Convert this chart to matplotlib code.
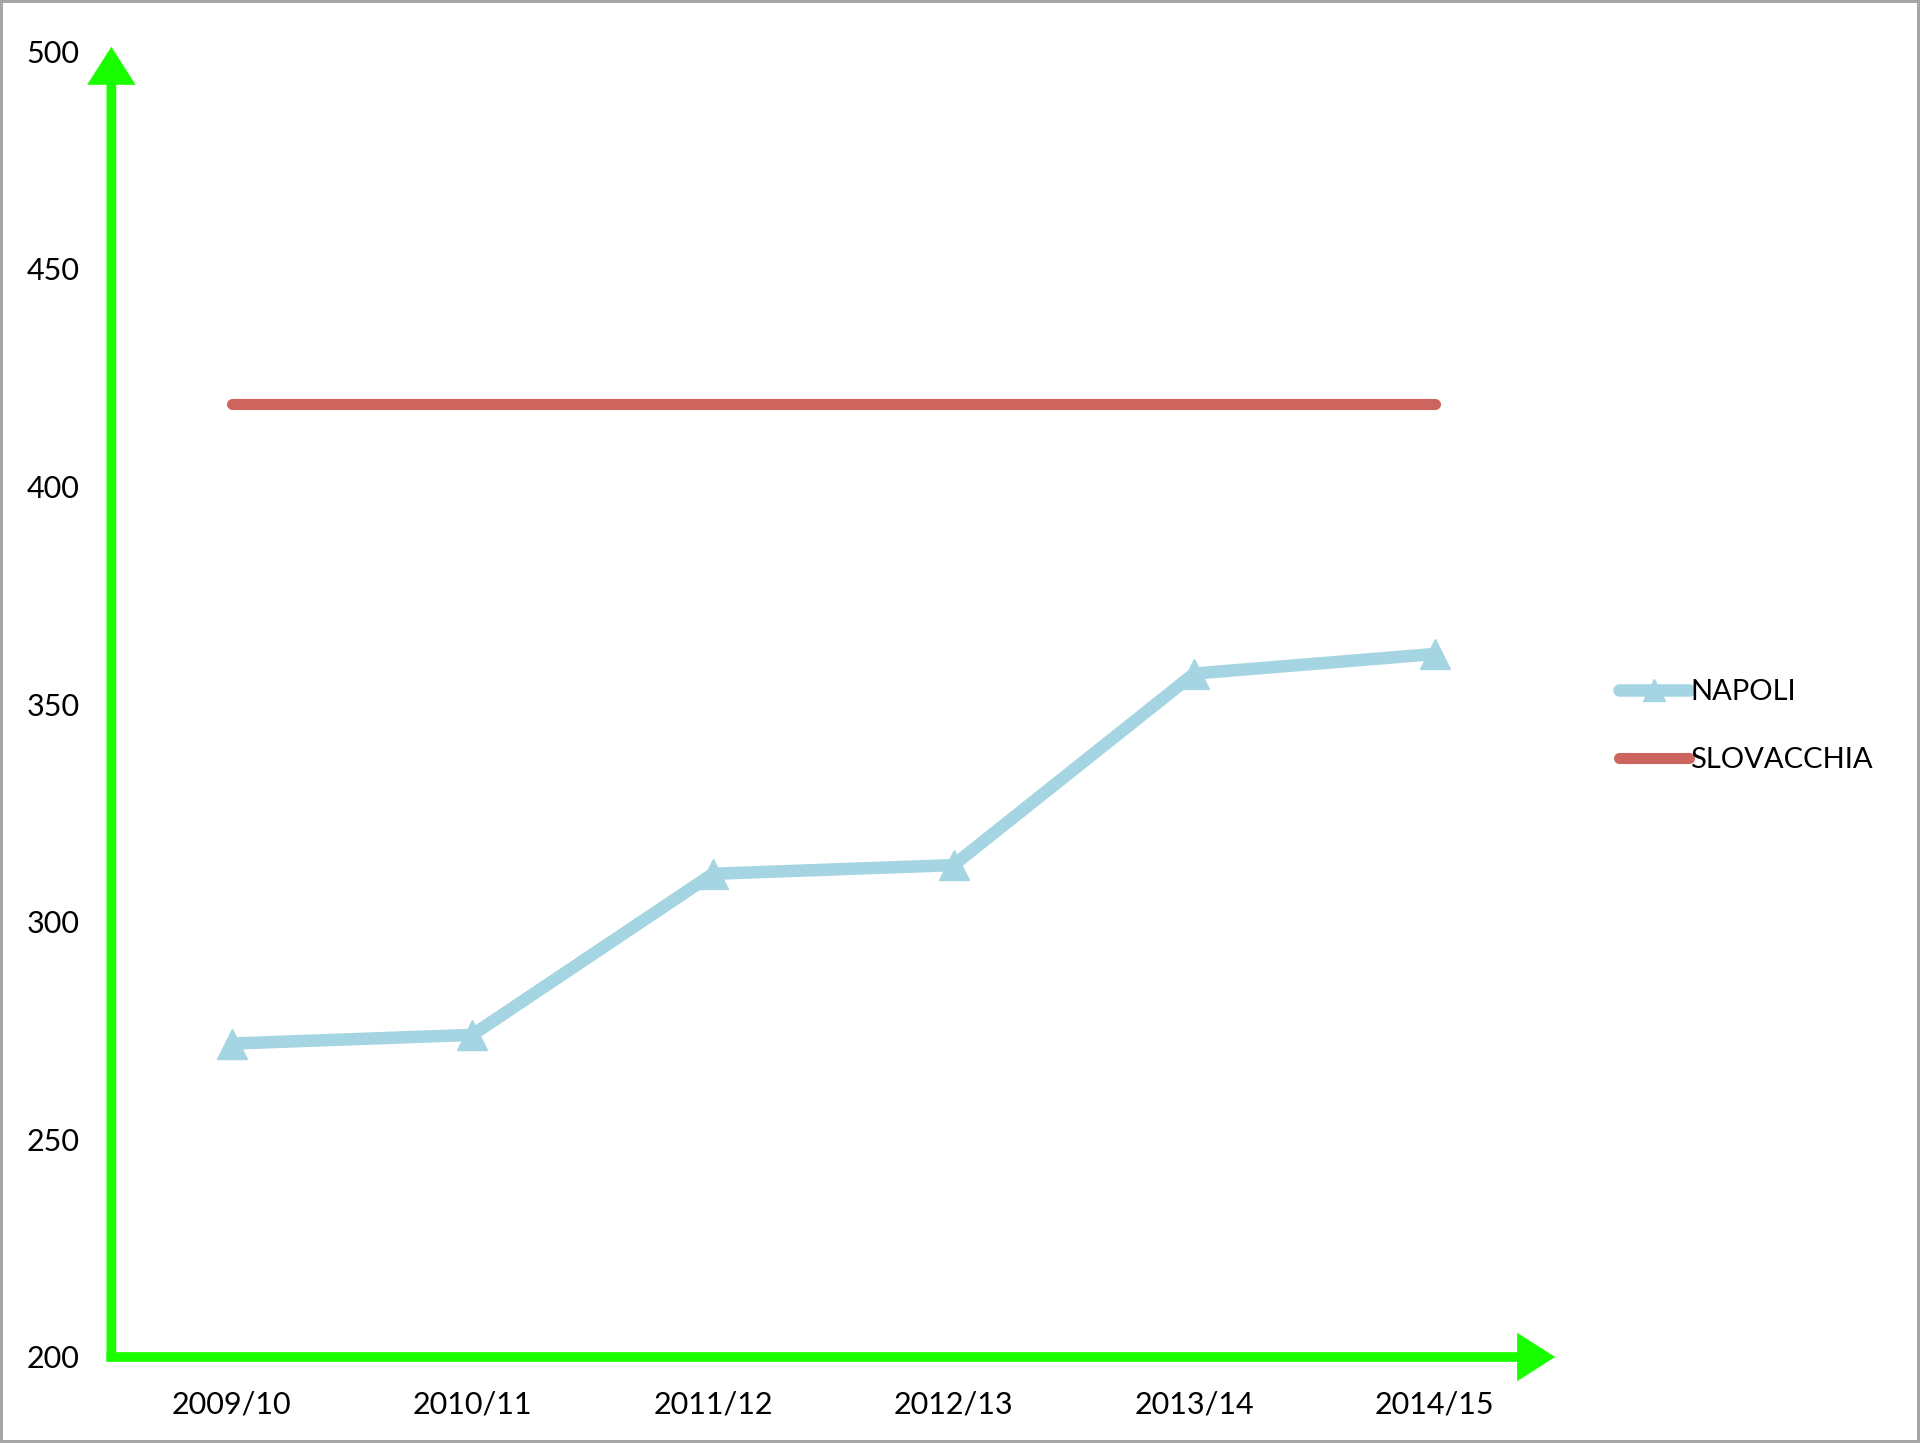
import numpy as np
import matplotlib.pyplot as plt

seasons = ["2009/10", "2010/11", "2011/12", "2012/13", "2013/14", "2014/15"]
napoli = [272, 274, 311, 313, 357, 361.5]
slovacchia = [419, 419, 419, 419, 419, 419]
y_ticks = [200, 250, 300, 350, 400, 450, 500]

green = "#1aff00"
blue = "#a5d5e2"
red = "#cd645e"

plt.rcParams['font.family'] = ['Lato', 'DejaVu Sans']

fig = plt.figure(figsize=(19.2, 14.43), dpi=100)
fig.patch.set_edgecolor("#a6a6a6")
fig.patch.set_linewidth(3)
ax = fig.add_axes([0.058, 0.0596, 0.752, 0.905])

x = np.arange(len(seasons))
ax.plot(x, napoli, color=blue, lw=9, marker="^", markersize=22,
        solid_capstyle="round", label="NAPOLI")
ax.plot(x, slovacchia, color=red, lw=8, solid_capstyle="round", label="SLOVACCHIA")

ax.set_xlim(-0.5, 5.5)
ax.set_ylim(200, 500)
ax.set_xticks(x)
ax.set_xticklabels(seasons)
ax.set_yticks(y_ticks)
ax.tick_params(length=0, labelsize=22)
ax.tick_params(axis="x", pad=24)
ax.tick_params(axis="y", pad=23)
for s in ax.spines.values():
    s.set_visible(False)

# green arrow axes
arrow = dict(arrowstyle="-|>,head_length=0.58,head_width=0.37", color=green, lw=7,
             mutation_scale=30, shrinkA=0, shrinkB=0,
             joinstyle="miter", capstyle="butt")
ax.annotate("", xy=(5.5, 200), xytext=(-0.52, 200), arrowprops=arrow,
            annotation_clip=False)
ax.annotate("", xy=(-0.5, 501), xytext=(-0.5, 199), arrowprops=arrow,
            annotation_clip=False)

leg = ax.legend(loc="center left", bbox_to_anchor=(1.026, 0.483), frameon=False,
                fontsize=21, handlelength=2.4, handletextpad=0.05,
                labelspacing=1.45, markerscale=0.7)

fig.savefig("out.png", dpi=100)
